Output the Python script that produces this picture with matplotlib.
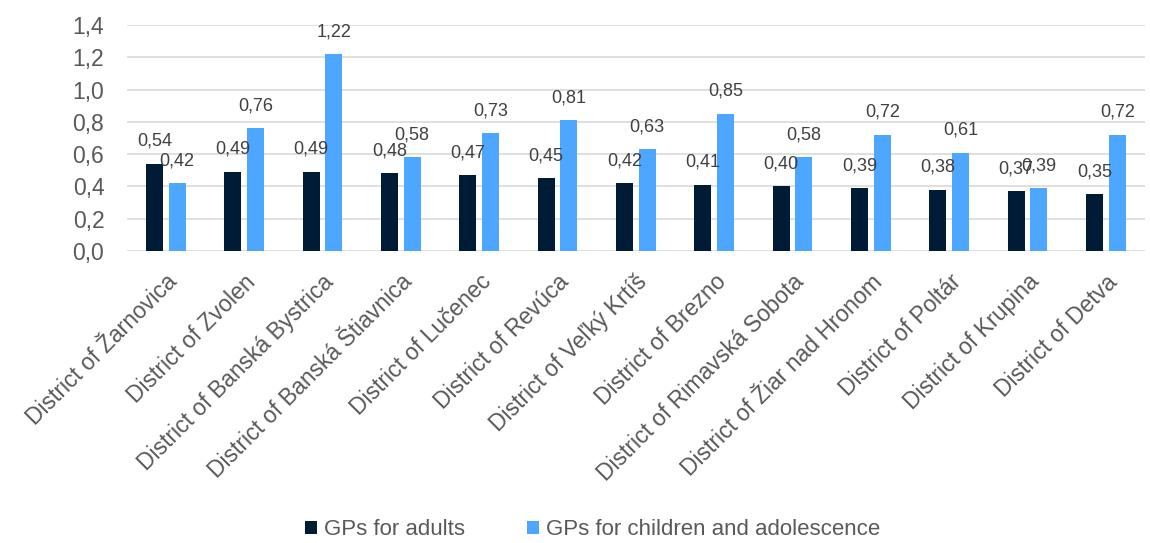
import numpy as np
import matplotlib
matplotlib.use('Agg')
import matplotlib.pyplot as plt
plt.rcParams['font.family'] = ['Liberation Sans', 'DejaVu Sans']

districts = ['District of Žarnovica', 'District of Zvolen', 'District of Banská Bystrica',
             'District of Banská Štiavnica', 'District of Lučenec', 'District of Revúca',
             'District of Veľký Krtíš', 'District of Brezno', 'District of Rimavská Sobota',
             'District of Žiar nad Hronom', 'District of Poltár', 'District of Krupina',
             'District of Detva']
adults = [0.54, 0.49, 0.49, 0.48, 0.47, 0.45, 0.42, 0.41, 0.40, 0.39, 0.38, 0.37, 0.35]
children = [0.42, 0.76, 1.22, 0.58, 0.73, 0.81, 0.63, 0.85, 0.58, 0.72, 0.61, 0.39, 0.72]
yticks = [0.0, 0.2, 0.4, 0.6, 0.8, 1.0, 1.2, 1.4]

c_adult = '#001B35'
c_child = '#4DA6FF'
txt = '#595959'

fig = plt.figure(figsize=(11.5, 5.43), dpi=100)
ax = fig.add_axes([0.110, 0.5378, 0.8857, 0.4162])

x = np.arange(len(districts))
w = 0.217
off = 0.145
b1 = ax.bar(x - off, adults, w, color=c_adult, label='GPs for adults', zorder=3)
b2 = ax.bar(x + off, children, w, color=c_child, label='GPs for children and adolescence', zorder=3)

for bars, vals in ((b1, adults), (b2, children)):
    for bar, v in zip(bars, vals):
        ax.annotate(f'{v:.2f}'.replace('.', ','),
                    (bar.get_x() + bar.get_width() / 2, v),
                    xytext=(0, 10), textcoords='offset points',
                    ha='center', va='bottom', fontsize=13, color='#404040')

ax.set_xlim(-0.5, len(districts) - 0.5)
ax.set_ylim(0, 1.4)
ax.set_yticks(yticks)
ax.set_yticklabels([f'{t:.1f}'.replace('.', ',') for t in yticks], fontsize=16.5, color=txt)
ax.set_xticks(x)
ax.set_xticklabels(districts, rotation=45, ha='right', va='top', rotation_mode='anchor',
                   fontsize=16.5, color=txt)
ax.tick_params(axis='both', length=0)
ax.tick_params(axis='x', pad=14)
ax.tick_params(axis='y', pad=16)
ax.grid(axis='y', color='#D9D9D9', linewidth=1.2, zorder=0)
for s in ax.spines.values():
    s.set_visible(False)

fig.legend(handles=[b1, b2], loc='center', bbox_to_anchor=(0.515, 0.024), ncol=2,
           frameon=False, fontsize=16, handlelength=0.55, handleheight=0.55,
           handletextpad=0.3, columnspacing=2.8, labelcolor=txt)

fig.savefig('out.png', dpi=100)
